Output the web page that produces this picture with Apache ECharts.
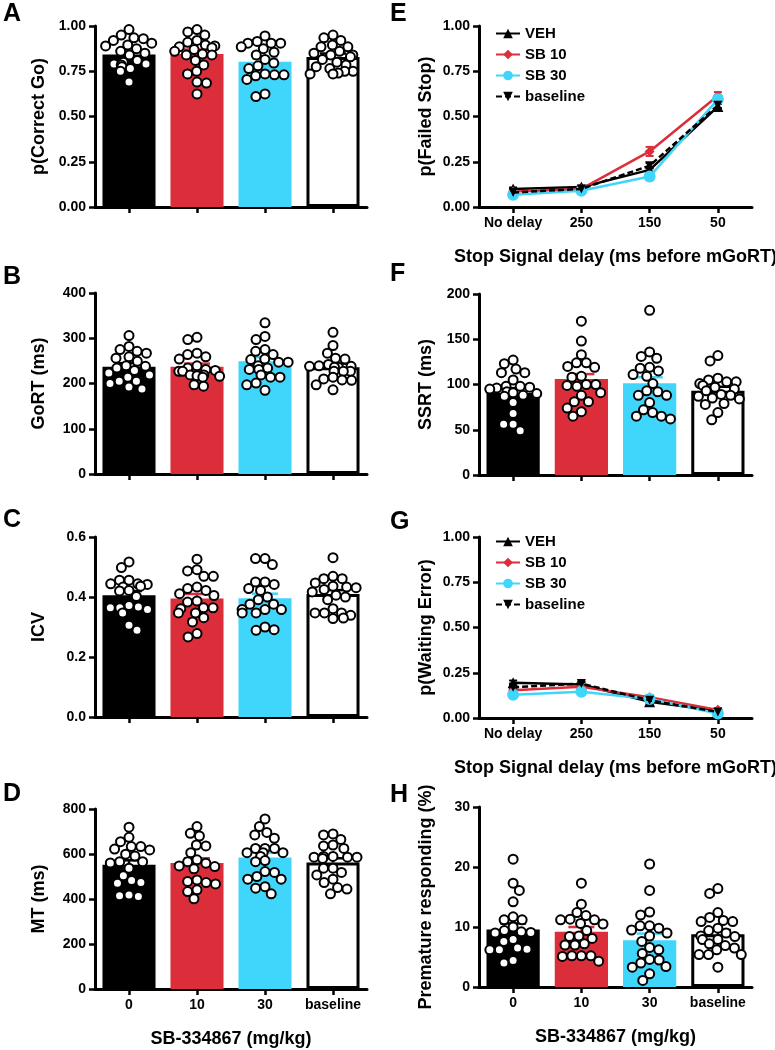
<!DOCTYPE html>
<html><head><meta charset="utf-8">
<script src="https://cdn.jsdelivr.net/npm/echarts@6/dist/echarts.min.js"></script>
<style>html,body{margin:0;padding:0;background:#fff}#c{width:775px;height:1050px}</style>
</head><body><div id="c"></div><script>
// ---------- categories ----------
const doseGroups = ['0', '10', '30', 'baseline'];
const delays = ['No delay', '250', '150', '50'];
const lineNames = ['VEH', 'SB 10', 'SB 30', 'baseline'];

// ---------- A: p(Correct Go) ----------
const goCorrect_0 = [0.98, 0.95, 0.935, 0.93, 0.92, 0.905, 0.895, 0.89, 0.875, 0.86, 0.85, 0.84, 0.81, 0.80, 0.79, 0.79, 0.785, 0.775, 0.765, 0.75, 0.69];
const goCorrect_10 = [0.98, 0.967, 0.95, 0.92, 0.91, 0.895, 0.89, 0.885, 0.88, 0.87, 0.86, 0.845, 0.84, 0.84, 0.81, 0.785, 0.75, 0.735, 0.69, 0.685, 0.625];
const goCorrect_30 = [0.945, 0.915, 0.905, 0.905, 0.905, 0.885, 0.875, 0.855, 0.84, 0.815, 0.795, 0.78, 0.765, 0.735, 0.73, 0.73, 0.725, 0.705, 0.625, 0.61];
const goCorrect_base = [0.95, 0.935, 0.92, 0.895, 0.885, 0.885, 0.86, 0.85, 0.84, 0.84, 0.83, 0.815, 0.8, 0.785, 0.775, 0.765, 0.75, 0.75, 0.74, 0.735, 0.735];
const goCorrectMean = [0.842, 0.845, 0.802, 0.829];
const goCorrectSem = [0.016, 0.025, 0.018, 0.019];

// ---------- B: GoRT ----------
const goRT_0 = [306, 282, 275, 271, 267, 259, 256, 249, 239, 238, 234, 229, 223, 219, 214, 205, 205, 200, 192, 188];
const goRT_10 = [302, 297, 267, 264, 259, 254, 239, 234, 231, 229, 227, 227, 219, 219, 217, 216, 214, 197, 194];
const goRT_30 = [334, 304, 297, 275, 271, 264, 254, 253, 247, 247, 239, 234, 231, 231, 219, 214, 214, 201, 197, 185];
const goRT_base = [313, 284, 267, 256, 254, 242, 239, 238, 238, 236, 236, 227, 227, 227, 214, 210, 208, 207, 197, 186];
const goRTMean = [237, 237, 249, 236];
const goRTSem = [8, 7, 9, 8];

// ---------- C: ICV ----------
const icv_0 = [0.517, 0.498, 0.456, 0.456, 0.444, 0.444, 0.442, 0.436, 0.433, 0.422, 0.42, 0.402, 0.372, 0.367, 0.364, 0.364, 0.358, 0.347, 0.306, 0.289];
const icv_10 = [0.526, 0.491, 0.487, 0.469, 0.469, 0.433, 0.428, 0.422, 0.411, 0.405, 0.387, 0.383, 0.364, 0.364, 0.361, 0.347, 0.347, 0.331, 0.317, 0.278, 0.267];
const icv_30 = [0.528, 0.528, 0.508, 0.45, 0.45, 0.442, 0.428, 0.422, 0.4, 0.391, 0.376, 0.376, 0.358, 0.358, 0.358, 0.347, 0.347, 0.3, 0.291, 0.289];
const icv_base = [0.531, 0.469, 0.461, 0.461, 0.447, 0.436, 0.433, 0.431, 0.425, 0.417, 0.406, 0.4, 0.391, 0.361, 0.347, 0.347, 0.347, 0.339, 0.33, 0.328];
const icvMean = [0.406, 0.395, 0.396, 0.41];
const icvSem = [0.014, 0.015, 0.015, 0.013];

// ---------- D: MT ----------
const mt_0 = [719, 674, 655, 633, 633, 622, 618, 599, 591, 566, 566, 560, 537, 503, 482, 473, 470, 418, 414, 411];
const mt_10 = [722, 692, 680, 640, 636, 606, 574, 566, 559, 547, 544, 534, 485, 478, 473, 467, 441, 433, 401];
const mt_30 = [756, 722, 696, 685, 670, 625, 625, 625, 606, 606, 606, 589, 571, 566, 522, 518, 500, 488, 488, 455, 448, 423];
const mt_base = [689, 685, 665, 640, 636, 625, 589, 589, 586, 586, 586, 580, 537, 537, 518, 507, 488, 473, 451, 444, 423];
const mtMean = [552, 560, 584, 562];
const mtSem = [20, 21, 22, 19];

// ---------- E: p(Failed Stop) ----------
const failedStop_VEH = [0.10, 0.11, 0.205, 0.555];
const failedStop_SB10 = [0.085, 0.10, 0.307, 0.615];
const failedStop_SB30 = [0.068, 0.09, 0.168, 0.595];
const failedStop_base = [0.08, 0.10, 0.228, 0.562];
const failedStopSem_VEH = [0.008, 0.008, 0.015, 0.015];
const failedStopSem_SB10 = [0.008, 0.008, 0.025, 0.02];
const failedStopSem_SB30 = [0.008, 0.008, 0.02, 0.02];
const failedStopSem_base = [0.008, 0.008, 0.015, 0.015];

// ---------- F: SSRT ----------
const ssrt_0 = [127, 123, 117, 113, 113, 105, 98, 98, 97, 96, 95, 92, 91, 90, 88, 87, 80, 68, 56, 56, 49];
const ssrt_10 = [170, 148, 133, 124, 124, 120, 119, 109, 108, 100, 100, 99, 98, 91, 88, 81, 81, 74, 70, 65];
const ssrt_30 = [182, 136, 131, 129, 119, 118, 115, 111, 109, 101, 93, 92, 88, 88, 80, 72, 69, 65, 65, 62];
const ssrt_base = [132, 126, 107, 105, 103, 103, 101, 99, 97, 95, 93, 89, 88, 87, 85, 84, 79, 78, 69, 61];
const ssrtMean = [90.5, 106, 101.5, 93];
const ssrtSem = [5.5, 5.5, 6.5, 4.5];

// ---------- G: p(Waiting Error) ----------
const waitErr_VEH = [0.195, 0.185, 0.09, 0.038];
const waitErr_SB10 = [0.153, 0.172, 0.115, 0.045];
const waitErr_SB30 = [0.128, 0.145, 0.105, 0.025];
const waitErr_base = [0.17, 0.19, 0.098, 0.033];
const waitErrSem_VEH = [0.012, 0.012, 0.01, 0.008];
const waitErrSem_SB10 = [0.012, 0.012, 0.012, 0.008];
const waitErrSem_SB30 = [0.012, 0.015, 0.012, 0.008];
const waitErrSem_base = [0.012, 0.012, 0.01, 0.008];

// ---------- H: Premature responding ----------
const prem_0 = [21.3, 17.3, 16.1, 14.2, 11.7, 11.2, 11.2, 10.0, 9.4, 9.2, 9.1, 9.0, 7.9, 7.6, 6.5, 6.3, 6.2, 6.2, 4.4, 4.0];
const prem_10 = [17.3, 13.8, 12.4, 11.9, 11.3, 11.2, 11.2, 10.6, 10.5, 9.4, 8.5, 8.4, 8.1, 7.2, 7.0, 7.0, 5.2, 5.2, 5.2, 5.1, 4.3];
const prem_30 = [20.5, 16.1, 12.5, 12.0, 10.2, 10.2, 9.8, 9.5, 9.0, 8.5, 7.6, 6.6, 6.2, 5.6, 4.6, 4.5, 4.0, 3.4, 3.3, 2.2, 1.1];
const prem_base = [16.4, 15.6, 12.4, 11.6, 11.1, 10.9, 10.9, 9.8, 9.4, 9.0, 8.5, 8.4, 7.9, 7.9, 7.2, 6.9, 6.5, 6.2, 5.4, 5.4, 5.4, 3.3];
const premMean = [9.6, 9.2, 7.8, 8.8];
const premSem = [1.0, 0.8, 1.1, 0.7];

// ---------- styling ----------
const FONT = '"Liberation Sans", Arial, Helvetica, sans-serif';
const RED = '#DC2E3A';
const CYAN = '#40D6FB';
const barFill = ['#000000', RED, CYAN, '#ffffff'];
const capColor = ['#000000', RED, CYAN, '#000000'];
const lineColor = ['#000000', RED, CYAN, '#000000'];

const barPanels = [
  { letter: 'A', grid: { left: 95, top: 26, width: 272, height: 181 }, yName: 'p(Correct Go)', max: 1, interval: 0.25, dec: 2,
    pts: [goCorrect_0, goCorrect_10, goCorrect_30, goCorrect_base], mean: goCorrectMean, sem: goCorrectSem, labels: false },
  { letter: 'B', grid: { left: 95, top: 293, width: 272, height: 181 }, yName: 'GoRT (ms)', max: 400, interval: 100, dec: 0,
    pts: [goRT_0, goRT_10, goRT_30, goRT_base], mean: goRTMean, sem: goRTSem, labels: false },
  { letter: 'C', grid: { left: 95, top: 537, width: 272, height: 180 }, yName: 'ICV', max: 0.6, interval: 0.2, dec: 1,
    pts: [icv_0, icv_10, icv_30, icv_base], mean: icvMean, sem: icvSem, labels: false },
  { letter: 'D', grid: { left: 95, top: 809, width: 272, height: 180 }, yName: 'MT (ms)', max: 800, interval: 200, dec: 0,
    pts: [mt_0, mt_10, mt_30, mt_base], mean: mtMean, sem: mtSem, labels: true },
  { letter: 'F', grid: { left: 479, top: 294, width: 273, height: 181 }, yName: 'SSRT (ms)', max: 200, interval: 50, dec: 0,
    pts: [ssrt_0, ssrt_10, ssrt_30, ssrt_base], mean: ssrtMean, sem: ssrtSem, labels: false },
  { letter: 'H', grid: { left: 479, top: 807, width: 273, height: 180 }, yName: 'Premature responding (%)', max: 30, interval: 10, dec: 0,
    pts: [prem_0, prem_10, prem_30, prem_base], mean: premMean, sem: premSem, labels: true }
];
const linePanels = [
  { letter: 'E', grid: { left: 479, top: 26, width: 273, height: 181 }, yName: 'p(Failed Stop)',
    lines: [failedStop_VEH, failedStop_SB10, failedStop_SB30, failedStop_base],
    sems: [failedStopSem_VEH, failedStopSem_SB10, failedStopSem_SB30, failedStopSem_base], legendTop: 21 },
  { letter: 'G', grid: { left: 479, top: 537, width: 273, height: 181 }, yName: 'p(Waiting Error)',
    lines: [waitErr_VEH, waitErr_SB10, waitErr_SB30, waitErr_base],
    sems: [waitErrSem_VEH, waitErrSem_SB10, waitErrSem_SB30, waitErrSem_base], legendTop: 529 }
];

const letterPos = { A: [3, 2], B: [3, 265], C: [3, 508], D: [3, 782], E: [390, 2], F: [390, 262], G: [390, 510], H: [390, 783] };

const axisLineStyle = { color: '#000', width: 3 };
const tickStyle = { color: '#000', width: 2.5 };
const labelStyle = { color: '#000', fontWeight: 'bold', fontSize: 14, fontFamily: FONT };
const nameStyle = { color: '#000', fontWeight: 'bold', fontSize: 18, fontFamily: FONT };

const grids = [], xAxes = [], yAxes = [], series = [], legends = [], graphics = [];

function addAxes(p, cats, showLabels, xName, yMax, yInt, dec, jitter, nameGapY) {
  const k = grids.length;
  grids.push(Object.assign({ outerBoundsMode: 'none', containLabel: false }, p.grid));
  const xa = {
    type: 'category', gridIndex: k, data: cats, boundaryGap: true,
    axisLine: { show: true, lineStyle: axisLineStyle },
    axisTick: { show: true, alignWithLabel: true, length: 6, lineStyle: tickStyle, interval: 0 },
    axisLabel: { show: showLabels, interval: 0, margin: 9, ...labelStyle },
    splitLine: { show: false }
  };
  if (xName) {
    xa.name = xName; xa.nameLocation = 'middle'; xa.nameGap = 41; xa.nameTextStyle = nameStyle;
  }
  if (jitter) { xa.jitter = 48; xa.jitterOverlap = false; xa.jitterMargin = 0.5; }
  xAxes.push(xa);
  yAxes.push({
    type: 'value', gridIndex: k, min: 0, max: yMax, interval: yInt,
    name: p.yName, nameLocation: 'middle', nameGap: nameGapY, nameTextStyle: nameStyle,
    axisLine: { show: true, lineStyle: axisLineStyle },
    axisTick: { show: true, length: 6, lineStyle: tickStyle },
    axisLabel: { margin: 9, formatter: v => v.toFixed(dec), ...labelStyle },
    splitLine: { show: false }
  });
  return k;
}

// ---------- bar + scatter panels ----------
barPanels.forEach(p => {
  const k = addAxes(p, doseGroups, p.labels, p.labels ? 'SB-334867 (mg/kg)' : null, p.max, p.interval, p.dec, true,
    p.grid.left < 200 ? 47 : 44);
  series.push({
    type: 'bar', name: p.letter + '-mean', xAxisIndex: k, yAxisIndex: k, barWidth: '78%', z: 2,
    data: p.mean.map((m, i) => ({
      value: m,
      itemStyle: { color: barFill[i], borderColor: i === 3 ? '#000' : barFill[i], borderWidth: i === 3 ? 3 : 0 }
    })),
    silent: true, animation: false
  });
  series.push({
    type: 'custom', name: p.letter + '-sem', xAxisIndex: k, yAxisIndex: k, z: 3, animation: false, silent: true,
    encode: { x: 0, y: 1 },
    data: p.mean.map((m, i) => [i, m, p.sem[i]]),
    renderItem: (params, api) => {
      const c = api.value(0), m = api.value(1), s = api.value(2);
      const a = api.coord([c, m]), b = api.coord([c, m + s]);
      const col = capColor[params.dataIndex];
      return { type: 'group', children: [
        { type: 'line', shape: { x1: a[0], y1: a[1], x2: b[0], y2: b[1] }, style: { stroke: col, lineWidth: 2.5 } },
        { type: 'line', shape: { x1: b[0] - 13, y1: b[1], x2: b[0] + 13, y2: b[1] }, style: { stroke: col, lineWidth: 2.5 } }
      ] };
    }
  });
  p.pts.forEach((vals, gi) => {
    series.push({
      type: 'scatter', name: p.letter + '-pts-' + gi, xAxisIndex: k, yAxisIndex: k, z: 4, animation: false, silent: true,
      symbol: 'circle', symbolSize: 9,
      itemStyle: { color: '#fff', borderColor: '#000', borderWidth: 2, opacity: 1 },
      data: vals.map(v => [gi, v])
    });
  });
});

// ---------- line panels ----------
const symbols = ['triangle', 'diamond', 'circle', 'triangle'];
const symSizes = [11, 10, 12, 9];
const symRot = [0, 0, 0, 180];
linePanels.forEach(p => {
  const k = addAxes(p, delays, true, 'Stop Signal delay (ms before mGoRT)', 1, 0.25, 2, false, 44);
  p.lines.forEach((vals, li) => {
    const col = lineColor[li];
    series.push({
      type: 'custom', name: p.letter + '-lsem-' + li, xAxisIndex: k, yAxisIndex: k, z: 3, animation: false, silent: true,
      encode: { x: 0, y: 1 },
      data: vals.map((v, i) => [i, v, p.sems[li][i]]),
      renderItem: (params, api) => {
        const c = api.value(0), m = api.value(1), s = api.value(2);
        const lo = api.coord([c, m - s]), hi = api.coord([c, m + s]);
        return { type: 'group', children: [
          { type: 'line', shape: { x1: lo[0], y1: lo[1], x2: hi[0], y2: hi[1] }, style: { stroke: col, lineWidth: 2 } },
          { type: 'line', shape: { x1: hi[0] - 4, y1: hi[1], x2: hi[0] + 4, y2: hi[1] }, style: { stroke: col, lineWidth: 2 } },
          { type: 'line', shape: { x1: lo[0] - 4, y1: lo[1], x2: lo[0] + 4, y2: lo[1] }, style: { stroke: col, lineWidth: 2 } }
        ] };
      }
    });
    series.push({
      type: 'line', name: lineNames[li], xAxisIndex: k, yAxisIndex: k, z: 4 + li, animation: false,
      data: vals, symbol: symbols[li], symbolSize: symSizes[li], symbolRotate: symRot[li], showSymbol: true,
      lineStyle: { color: col, width: 2.5, type: li === 3 ? [6, 3] : 'solid' },
      itemStyle: { color: col, borderColor: col, borderWidth: 0 }
    });
  });
  legends.push({
    orient: 'vertical', left: 490, top: p.legendTop, itemGap: 6, itemWidth: 24, itemHeight: 12,
    data: lineNames, selectedMode: false, symbolRotate: 'inherit',
    textStyle: { color: '#000', fontWeight: 'bold', fontSize: 15, fontFamily: FONT }
  });
});

Object.keys(letterPos).forEach(L => {
  graphics.push({
    type: 'text', left: letterPos[L][0], top: letterPos[L][1],
    style: { text: L, font: 'bold 25px ' + FONT, fill: '#000' }
  });
});

const chart = echarts.init(document.getElementById('c'), null, { renderer: 'canvas' });
chart.setOption({
  backgroundColor: '#fff',
  animation: false,
  textStyle: { fontFamily: FONT },
  grid: grids, xAxis: xAxes, yAxis: yAxes, series: series, legend: legends, graphic: graphics
});
</script></body></html>
